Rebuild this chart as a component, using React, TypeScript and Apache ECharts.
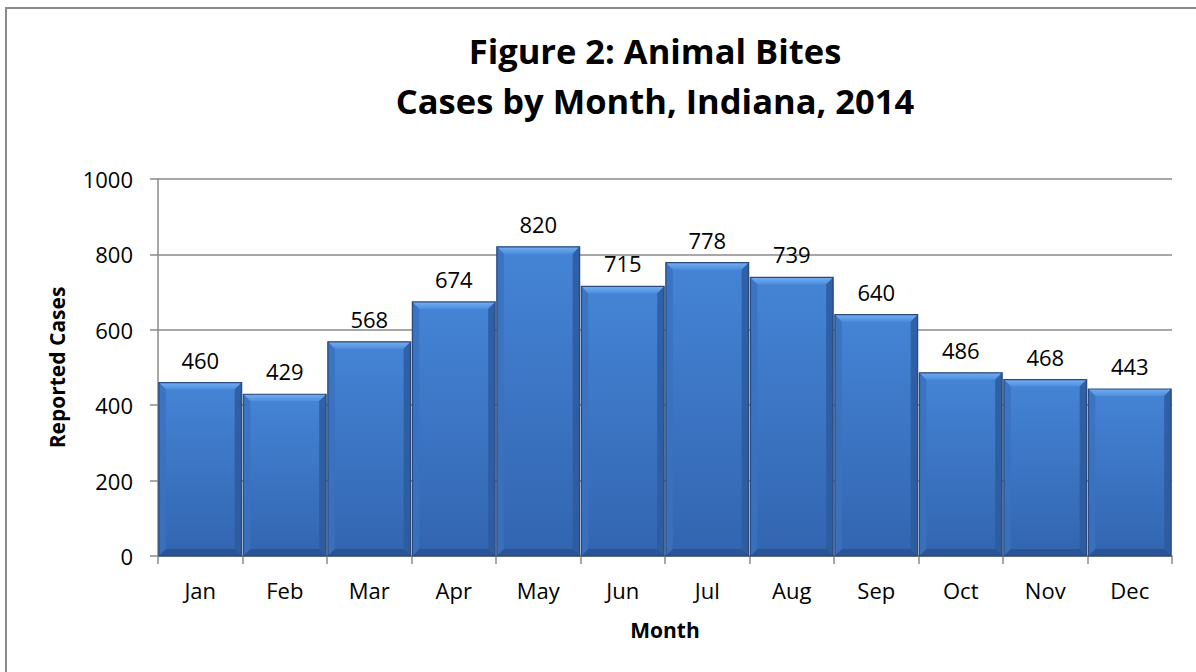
import React, { useEffect, useRef } from "react";
import * as echarts from "echarts";

const months = ["Jan", "Feb", "Mar", "Apr", "May", "Jun", "Jul", "Aug", "Sep", "Oct", "Nov", "Dec"];
const cases = [460, 429, 568, 674, 820, 715, 778, 739, 640, 486, 468, 443];
const titleLines = ["Figure 2: Animal Bites", "Cases by Month, Indiana, 2014"];

export default function App() {
  const ref = useRef<HTMLDivElement>(null);
  useEffect(() => {
    if (!ref.current) return;
    const chart = echarts.init(ref.current, null, { renderer: "svg" });
    const font = "Open Sans";
    const gapRatio = 0.02;
    chart.setOption({
      animation: false,
      backgroundColor: "#ffffff",
      graphic: [
        {
          type: "rect",
          shape: { x: 6, y: 8, width: 1220, height: 700 },
          style: { fill: "none", stroke: "#8a8a8a", lineWidth: 2 },
          silent: true,
        },
      ],
      title: {
        text: titleLines.join("\n"),
        left: 650,
        textAlign: "center",
        top: 20,
        textStyle: {
          fontFamily: font,
          fontWeight: "bold",
          fontSize: 34.5,
          lineHeight: 50,
          color: "#000",
        },
      },
      grid: { left: 158, right: 24, top: 179, bottom: 116, containLabel: false },
      xAxis: {
        type: "category",
        data: months,
        name: "Month",
        nameLocation: "middle",
        nameGap: 74,
        nameTextStyle: { fontFamily: font, fontWeight: "bold", fontSize: 21, color: "#000", verticalAlign: "middle" },
        axisLine: { lineStyle: { color: "#8a8a8a", width: 1.5 } },
        axisTick: { show: true, length: 8, lineStyle: { color: "#8a8a8a", width: 1.5 } },
        axisLabel: { fontFamily: font, fontSize: 22, color: "#000", margin: 23 },
      },
      yAxis: {
        type: "value",
        min: 0,
        max: 1000,
        interval: 200,
        name: "Reported Cases",
        nameLocation: "middle",
        nameGap: 101,
        nameTextStyle: { fontFamily: font, fontWeight: "bold", fontSize: 21, color: "#000", verticalAlign: "middle" },
        axisLine: { show: true, lineStyle: { color: "#8a8a8a", width: 1.5 } },
        axisTick: { show: true, length: 8, lineStyle: { color: "#8a8a8a", width: 1.5 } },
        axisLabel: {
          fontFamily: font,
          fontSize: 22,
          color: "#000",
          margin: 25,
          formatter: (v: number) => String(v),
        },
        splitLine: { show: true, lineStyle: { color: "#8a8a8a", width: 1.5 } },
      },
      series: [
        {
          type: "bar",
          data: cases,
          barCategoryGap: gapRatio * 100 + "%",
          z: 2,
          itemStyle: {
            color: new echarts.graphic.LinearGradient(0, 0, 0, 1, [
              { offset: 0, color: "#4584d6" },
              { offset: 1, color: "#3265b0" },
            ]),
            borderColor: "#2b4a7e",
            borderWidth: 1.2,
          },
          label: {
            show: true,
            position: "top",
            distance: 12,
            fontFamily: font,
            fontSize: 22,
            color: "#000",
          },
        },
        {
          type: "custom",
          data: cases.map((v, i) => [i, v]),
          z: 3,
          silent: true,
          renderItem: (params: any, api: any) => {
            const idx = api.value(0);
            const val = api.value(1);
            const top = api.coord([idx, val]);
            const bottom = api.coord([idx, 0]);
            const band = api.size([1, 0])[0];
            const w = band * (1 - gapRatio);
            const x0 = top[0] - w / 2;
            const x1 = top[0] + w / 2;
            const y0 = top[1];
            const y1 = bottom[1];
            const b = 7;
            return {
              type: "group",
              children: [
                {
                  type: "polygon",
                  shape: { points: [[x0, y0], [x1, y0], [x1 - b, y0 + b], [x0 + b, y0 + b]] },
                  style: {
                    fill: new echarts.graphic.LinearGradient(0, 0, 0, 1, [
                      { offset: 0, color: "#74aef2" },
                      { offset: 1, color: "#4d8ddc" },
                    ]),
                  },
                },
                {
                  type: "polygon",
                  shape: { points: [[x0, y0], [x0 + b, y0 + b], [x0 + b, y1 - b], [x0, y1]] },
                  style: { fill: "#3a72c0", opacity: 0.85 },
                },
                {
                  type: "polygon",
                  shape: { points: [[x1, y0], [x1 - b, y0 + b], [x1 - b, y1 - b], [x1, y1]] },
                  style: { fill: "#2d5a9c", opacity: 0.85 },
                },
                {
                  type: "polygon",
                  shape: { points: [[x0, y1], [x0 + b, y1 - b], [x1 - b, y1 - b], [x1, y1]] },
                  style: { fill: "#2a5291", opacity: 0.9 },
                },
                {
                  type: "rect",
                  shape: { x: x0, y: y0, width: w, height: y1 - y0 },
                  style: { fill: "none", stroke: "#2b4a7e", lineWidth: 1.2 },
                },
              ],
            };
          },
        },
      ],
    });
    return () => chart.dispose();
  }, []);
  return (
    <div
      ref={ref}
      style={{ position: "fixed", left: 0, top: 0, width: 1196, height: 672 }}
    />
  );
}
